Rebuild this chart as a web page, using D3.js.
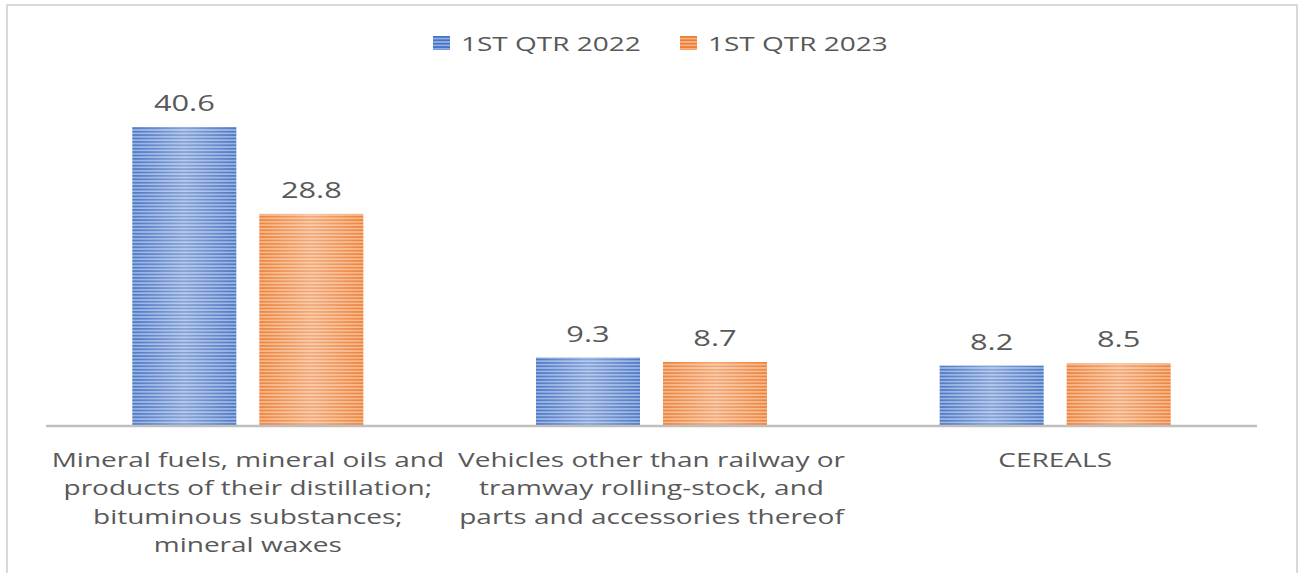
<!DOCTYPE html>
<html>
<head>
<meta charset="utf-8">
<script src="https://cdn.jsdelivr.net/npm/d3@7"></script>
<style>
  body { margin: 0; background: #fff; }
  svg text { font-family: "Open Sans", "Noto Sans", sans-serif; fill: #595959; }
</style>
</head>
<body>
<svg id="chart"></svg>
<script>
// chart data
var categories = [
  ["Mineral fuels, mineral oils and", "products of their distillation;", "bituminous substances;", "mineral waxes"],
  ["Vehicles other than railway or", "tramway rolling-stock, and", "parts and accessories thereof"],
  ["CEREALS"]
];
var seriesNames = ["1ST QTR 2022", "1ST QTR 2023"];
var values2022 = [40.6, 9.3, 8.2];
var values2023 = [28.8, 8.7, 8.5];
var seriesColors = ["#4472c4", "#ed7d31"];
var lightColors = ["#b4c7ea", "#f8c9a8"];

var W = 1299, H = 573;
var margin = {top: 90, right: 42, bottom: 147, left: 46};
var width = W - margin.left - margin.right,
    height = H - margin.top - margin.bottom;
var stretch = 1.4; // the original text is drawn wide

var svg = d3.select("#chart").attr("width", W).attr("height", H);

// border of the chart area
svg.append("rect")
  .attr("x", 7).attr("y", 5)
  .attr("width", 1290).attr("height", 580)
  .attr("fill", "#fff")
  .attr("stroke", "#d9d9d9")
  .attr("stroke-width", 2);

var defs = svg.append("defs");
seriesColors.forEach(function(c, i){
  var p = defs.append("pattern")
    .attr("id", "stripe" + i)
    .attr("patternUnits", "userSpaceOnUse")
    .attr("width", 8).attr("height", 3.4);
  p.append("rect").attr("width", 8).attr("height", 3.4).attr("fill", c);
  p.append("rect").attr("y", 2).attr("width", 8).attr("height", 1.2).attr("fill", lightColors[i]);
});
var grad = defs.append("linearGradient").attr("id", "sheen")
  .attr("x1", "0%").attr("x2", "100%").attr("y1", "0%").attr("y2", "0%");
grad.append("stop").attr("offset", "0%").attr("stop-color", "#fff").attr("stop-opacity", 0.05);
grad.append("stop").attr("offset", "50%").attr("stop-color", "#fff").attr("stop-opacity", 0.35);
grad.append("stop").attr("offset", "100%").attr("stop-color", "#fff").attr("stop-opacity", 0.05);

var g = svg.append("g").attr("transform", "translate(" + margin.left + "," + margin.top + ")");

var x0 = d3.scaleBand().domain(d3.range(categories.length)).range([0, width]);
var x1 = d3.scaleBand().domain([0, 1]).range([0, 231]).paddingInner(23 / 127);
var y = d3.scaleLinear().domain([0, 45]).range([height, height - 45 * 7.365]);

var data = categories.map(function(c, i){
  return {i: i, vals: [values2022[i], values2023[i]]};
});
function pairs(d){ return d.vals.map(function(v, s){ return {v: v, s: s}; }); }

var groups = g.selectAll(".grp").data(data).enter().append("g")
  .attr("class", "grp")
  .attr("transform", function(d){ return "translate(" + (x0(d.i) + x0.bandwidth() / 2 - 231 / 2) + ",0)"; });

groups.selectAll(".bar").data(pairs)
  .enter().append("rect")
  .attr("class", "bar")
  .attr("x", function(d){ return x1(d.s); })
  .attr("y", function(d){ return y(d.v); })
  .attr("width", x1.bandwidth())
  .attr("height", function(d){ return height - y(d.v); })
  .attr("fill", function(d){ return "url(#stripe" + d.s + ")"; });

groups.selectAll(".sheen").data(pairs)
  .enter().append("rect")
  .attr("x", function(d){ return x1(d.s); })
  .attr("y", function(d){ return y(d.v); })
  .attr("width", x1.bandwidth())
  .attr("height", function(d){ return height - y(d.v); })
  .attr("fill", "url(#sheen)");

groups.selectAll(".lbl").data(pairs)
  .enter().append("text")
  .attr("transform", function(d){ return "translate(" + (x1(d.s) + x1.bandwidth() / 2) + "," + (y(d.v) - 16) + ") scale(" + stretch + ",1)"; })
  .attr("text-anchor", "middle")
  .style("font-size", "22px")
  .text(function(d){ return d.v.toFixed(1); });

// axis line
g.append("line")
  .attr("x1", 0).attr("x2", width)
  .attr("y1", height).attr("y2", height)
  .attr("stroke", "#bfbfbf").attr("stroke-width", 2.5);

// category labels
var catText = g.selectAll(".cat").data(data).enter().append("text")
  .attr("class", "cat")
  .attr("text-anchor", "middle")
  .style("font-size", "20px")
  .attr("transform", function(d){ return "translate(" + (x0(d.i) + x0.bandwidth() / 2) + "," + (height + 41) + ") scale(" + stretch + ",1)"; });
catText.selectAll("tspan").data(function(d){ return categories[d.i]; })
  .enter().append("tspan")
  .attr("x", 0)
  .attr("dy", function(d, i){ return i === 0 ? 0 : 28.5; })
  .text(function(d){ return d; });

// legend
var legendX = [433, 680];
var legend = svg.selectAll(".leg").data(seriesNames).enter().append("g")
  .attr("transform", function(d, i){ return "translate(" + legendX[i] + ",36)"; });
legend.append("rect").attr("width", 17).attr("height", 14)
  .attr("fill", function(d, i){ return "url(#stripe" + i + ")"; });
legend.append("text")
  .attr("transform", "translate(28,15) scale(" + stretch + ",1)")
  .style("font-size", "20px")
  .text(function(d){ return d; });
</script>
</body>
</html>
